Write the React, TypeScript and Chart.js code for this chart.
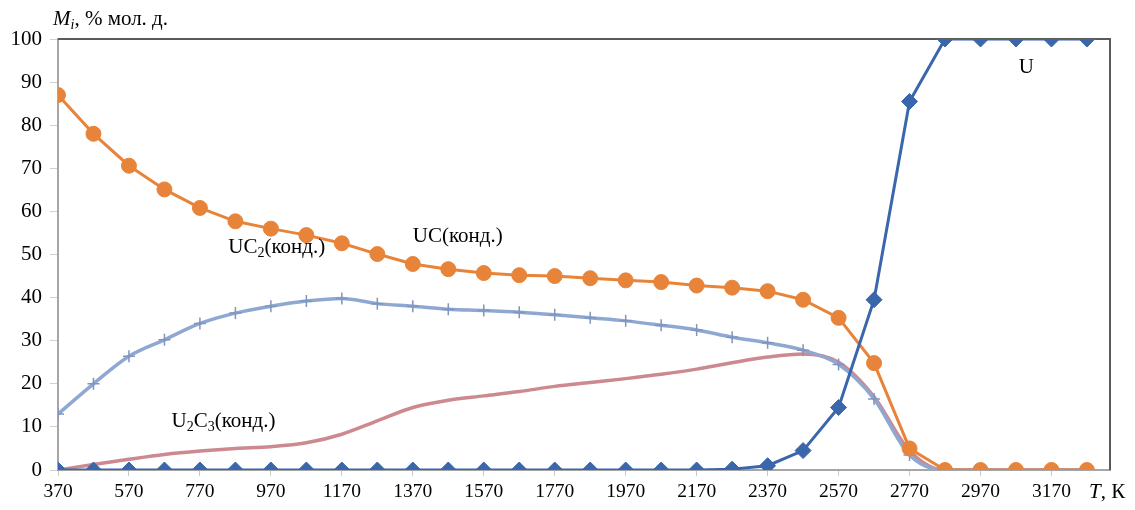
import React, { useEffect, useRef } from "react";
import { Chart, registerables } from "chart.js";

Chart.register(...registerables);

// ---- data ----
const temperatures = [
  370, 470, 570, 670, 770, 870, 970, 1070, 1170, 1270, 1370, 1470, 1570, 1670, 1770,
  1870, 1970, 2070, 2170, 2270, 2370, 2470, 2570, 2670, 2770, 2870, 2970, 3070, 3170, 3270,
];
const xTickLabels = [370, 570, 770, 970, 1170, 1370, 1570, 1770, 1970, 2170, 2370, 2570, 2770, 2970, 3170];
const uValues = [
  0, 0, 0, 0, 0, 0, 0, 0, 0, 0, 0, 0, 0, 0, 0, 0, 0, 0, 0, 0.2, 1, 4.5, 14.5, 39.5, 85.5, 100, 100, 100, 100, 100,
];
const ucValues = [
  87, 78, 70.6, 65.1, 60.8, 57.7, 56, 54.5, 52.6, 50.1, 47.8, 46.6, 45.7, 45.2, 45, 44.5, 44, 43.6, 42.8, 42.3,
  41.5, 39.5, 35.3, 24.8, 5, 0, 0, 0, 0, 0,
];
const uc2Values = [
  13, 20, 26.4, 30.2, 34, 36.4, 38, 39.2, 39.8, 38.6, 38, 37.3, 37, 36.6, 36, 35.3, 34.6, 33.6, 32.5, 30.8,
  29.5, 27.8, 24.5, 16.5, 3.5, 0, 0, 0, 0, 0,
];
const u2c3Values = [
  0, 1.3, 2.5, 3.6, 4.4, 5, 5.4, 6.3, 8.3, 11.4, 14.5, 16.2, 17.2, 18.2, 19.4, 20.3, 21.2, 22.2, 23.4, 24.9,
  26.2, 26.9, 25, 17, 4.5, 0, 0, 0, 0, 0,
];

const FONT = '"Liberation Serif", "Times New Roman", serif';

type Part = { t: string; sub?: boolean; italic?: boolean };
const labels: { x: number; y: number; parts: Part[] }[] = [
  { x: 3078, y: 92.1, parts: [{ t: "U" }] },
  { x: 1370, y: 52.8, parts: [{ t: "UC(конд.)" }] },
  { x: 850, y: 50.4, parts: [{ t: "UC" }, { t: "2", sub: true }, { t: "(конд.)" }] },
  { x: 690, y: 10, parts: [{ t: "U" }, { t: "2", sub: true }, { t: "C" }, { t: "3", sub: true }, { t: "(конд.)" }] },
];

function drawRich(ctx: CanvasRenderingContext2D, x: number, y: number, parts: Part[], size: number) {
  let cx = x;
  for (const p of parts) {
    const fs = p.sub ? Math.round(size * 0.68) : size;
    ctx.font = `${p.italic ? "italic " : ""}${fs}px ${FONT}`;
    ctx.fillText(p.t, cx, p.sub ? y + size * 0.2 : y);
    cx += ctx.measureText(p.t).width;
  }
}

const toXY = (vals: number[]) => temperatures.map((t, i) => ({ x: t, y: vals[i] }));

const framePlugin = {
  id: "frame",
  beforeDatasetsDraw(chart: any) {
    const { ctx, chartArea: a } = chart;
    ctx.save();
    ctx.strokeStyle = "#5a5a5a";
    ctx.lineWidth = 2;
    ctx.beginPath();
    ctx.moveTo(a.left, a.top);
    ctx.lineTo(a.right, a.top);
    ctx.lineTo(a.right, a.bottom);
    ctx.stroke();
    ctx.restore();
  },
  afterDraw(chart: any) {
    const { ctx, scales } = chart;
    ctx.save();
    ctx.fillStyle = "#000";
    ctx.textBaseline = "alphabetic";
    ctx.textAlign = "left";
    drawRich(ctx, 53, 25, [{ t: "M", italic: true }, { t: "i", italic: true, sub: true }, { t: ", % мол. д." }], 21);
    drawRich(ctx, 1089, 498, [{ t: "T", italic: true }, { t: ", К" }], 21);
    for (const l of labels) {
      drawRich(ctx, scales.x.getPixelForValue(l.x), scales.y.getPixelForValue(l.y), l.parts, 21);
    }
    ctx.restore();
  },
};

export default function App() {
  const ref = useRef<HTMLCanvasElement>(null);
  useEffect(() => {
    if (!ref.current) return;
    const chart = new Chart(ref.current, {
      type: "line",
      data: {
        datasets: [
          {
            label: "U",
            data: toXY(uValues),
            borderColor: "#3a66ac",
            backgroundColor: "#3a66ac",
            borderWidth: 3,
            pointStyle: "rectRot",
            pointRadius: 8,
            pointBorderWidth: 1,
            tension: 0,
          },
          {
            label: "UC",
            data: toXY(ucValues),
            borderColor: "#e8843a",
            backgroundColor: "#e8843a",
            borderWidth: 3,
            pointStyle: "circle",
            pointRadius: 7.5,
            pointBorderWidth: 1,
            tension: 0,
          },
          {
            label: "UC2",
            data: toXY(uc2Values),
            borderColor: "#8fa8d2",
            backgroundColor: "#8fa8d2",
            pointBorderColor: "#7f95bd",
            borderWidth: 3.5,
            pointStyle: "cross",
            pointRadius: 6,
            pointBorderWidth: 1.5,
            cubicInterpolationMode: "monotone",
          },
          {
            label: "U2C3",
            data: toXY(u2c3Values),
            borderColor: "#cc8990",
            backgroundColor: "#cc8990",
            borderWidth: 3.5,
            pointRadius: 0,
            cubicInterpolationMode: "monotone",
          },
        ],
      },
      options: {
        responsive: false,
        animation: false,
        layout: { padding: { top: 39, right: 25, left: 0, bottom: 0 } },
        plugins: { legend: { display: false }, tooltip: { enabled: false } },
        scales: {
          x: {
            type: "linear",
            min: 370,
            max: 3335,
            afterBuildTicks: (s: any) => {
              s.ticks = xTickLabels.map((v) => ({ value: v }));
            },
            ticks: {
              font: { family: FONT, size: 19.5 },
              color: "#000",
              padding: 4,
              maxRotation: 0,
              autoSkip: false,
              callback: (v: any) => String(v),
            },
            grid: { display: true, drawOnChartArea: false, tickLength: 6, color: "#c8c8c8" },
            border: { color: "#a6a6a6", width: 2 },
            afterFit: (s: any) => {
              s.height = 40;
            },
          },
          y: {
            min: 0,
            max: 100,
            ticks: { stepSize: 10, font: { family: FONT, size: 21 }, color: "#000", padding: 8 },
            grid: { drawOnChartArea: false, tickLength: 8, color: "#d0d0d0" },
            border: { color: "#a6a6a6", width: 2 },
            afterFit: (s: any) => {
              s.width = 58;
            },
          },
        },
      },
      plugins: [framePlugin],
    });
    return () => chart.destroy();
  }, []);
  return (
    <div style={{ position: "fixed", left: 0, top: 0, width: 1135, height: 510, background: "#fff" }}>
      <canvas ref={ref} width={1135} height={510} />
    </div>
  );
}
